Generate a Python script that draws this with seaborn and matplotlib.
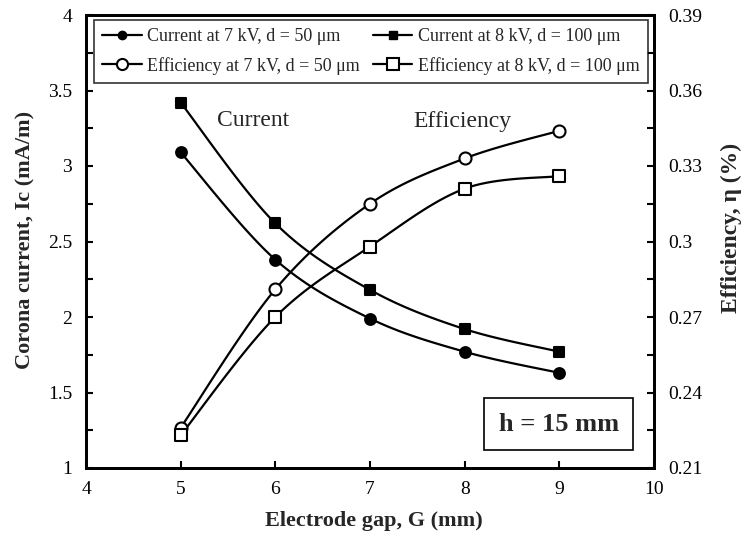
import numpy as np
import pandas as pd
import matplotlib
matplotlib.use("Agg")
import matplotlib.pyplot as plt
from matplotlib.lines import Line2D
import seaborn as sns

# Electrode gap (mm)
gap = [5, 6, 7, 8, 9]
# Corona current (mA/m)
current_7kv = [3.09, 2.38, 1.99, 1.77, 1.63]
current_8kv = [3.42, 2.62, 2.18, 1.92, 1.77]
# Efficiency (%)
eff_7kv = [0.226, 0.281, 0.315, 0.333, 0.344]
eff_8kv = [0.223, 0.270, 0.298, 0.321, 0.326]

x_ticks = [4, 5, 6, 7, 8, 9, 10]
left_ticks = [1, 1.5, 2, 2.5, 3, 3.5, 4]
left_tick_labels = ["1", "1.5", "2", "2.5", "3", "3.5", "4"]
right_ticks = [0.21, 0.24, 0.27, 0.30, 0.33, 0.36, 0.39]
right_tick_labels = ["0.21", "0.24", "0.27", "0.3", "0.33", "0.36", "0.39"]

sns.set_theme(style="white")
plt.rcParams["font.family"] = ["Liberation Serif", "DejaVu Serif"]

W, H = 745, 538
fig = plt.figure(figsize=(W / 100, H / 100), dpi=100)
ax = fig.add_axes([86 / W, 1 - 468 / H, (654 - 86) / W, (468 - 15) / H])
ax2 = ax.twinx()


def smooth(xs, ys, n=30):
    """Piecewise cubic Bezier (Catmull-Rom style) through the points."""
    pts = np.column_stack([np.asarray(xs, float), np.asarray(ys, float)])
    out = [pts[0]]
    for i in range(len(pts) - 1):
        p0 = pts[i - 1] if i > 0 else pts[i]
        p1 = pts[i]
        p2 = pts[i + 1]
        p3 = pts[i + 2] if i + 2 < len(pts) else pts[i + 1]
        c1 = p1 + (p2 - p0) / 6.0
        c2 = p2 - (p3 - p1) / 6.0
        t = np.linspace(0, 1, n)[1:, None]
        seg = ((1 - t) ** 3) * p1 + 3 * ((1 - t) ** 2) * t * c1 + 3 * (1 - t) * t ** 2 * c2 + t ** 3 * p2
        out.extend(seg)
    out = np.array(out)
    return out[:, 0], out[:, 1]


def draw(axis, ys, marker, filled, size):
    sx, sy = smooth(gap, ys)
    axis.plot(sx, sy, color="black", lw=1.6, zorder=2)
    df = pd.DataFrame({"gap": gap, "val": ys})
    sns.scatterplot(data=df, x="gap", y="val", ax=axis, marker=marker, s=size,
                    color="black" if filled else "white", edgecolor="black",
                    linewidth=1.5, zorder=3, legend=False)


draw(ax, current_7kv, "o", True, 60)
draw(ax, current_8kv, "s", True, 60)
draw(ax2, eff_7kv, "o", False, 75)
draw(ax2, eff_8kv, "s", False, 75)

ax.set_xlim(4, 10)
ax.set_ylim(1, 4)
ax2.set_ylim(0.21, 0.39)

ax.set_xticks(x_ticks)
ax.set_xticklabels([str(v) for v in x_ticks])
ax.set_yticks(left_ticks)
ax.set_yticklabels(left_tick_labels)
ax.set_yticks(np.arange(1.25, 4, 0.5), minor=True)
ax2.set_yticks(right_ticks)
ax2.set_yticklabels(right_tick_labels)
ax2.set_yticks(np.arange(0.225, 0.39, 0.03), minor=True)

for a in (ax, ax2):
    a.tick_params(axis="both", which="both", direction="in", length=5, width=1.5,
                  labelsize=14, colors="black", pad=10)
    for sp in a.spines.values():
        sp.set_color("black")
        sp.set_linewidth(2)
ax.tick_params(axis="x", which="both", bottom=True, top=False, pad=9)
ax.tick_params(axis="y", which="both", left=True, right=False)
ax2.tick_params(axis="y", which="both", right=True, left=False)

ax.set_xlabel("")
ax.set_ylabel("")
ax2.set_ylabel("")
fig.text(374 / W, 1 - 521 / H, "Electrode gap, G (mm)", fontsize=16, fontweight="bold",
         ha="center", va="center")
fig.text(25 / W, 1 - 240 / H, "Corona current, Ic (mA/m)", fontsize=16, fontweight="bold",
         ha="center", va="center", rotation=90)
fig.text(731 / W, 1 - 228 / H, "Efficiency, η (%)", fontsize=17, fontweight="bold",
         ha="center", va="center", rotation=90)
ax.set_facecolor("white")
ax2.set_facecolor("none")

ax.text(5.76, 3.30, "Current", fontsize=17, ha="center", va="center")
ax2.text(7.98, 0.3475, "Efficiency", fontsize=17, ha="center", va="center")
ax2.text(0.832, 0.097, "h = 15 mm", transform=ax2.transAxes, fontsize=19,
         fontweight="bold", ha="center", va="center",
         bbox=dict(boxstyle="square,pad=0.55", facecolor="white", edgecolor="black", linewidth=1.2))

handles = [
    Line2D([], [], color="black", lw=1.6, marker="o", markersize=6, markerfacecolor="black"),
    Line2D([], [], color="black", lw=1.6, marker="o", markersize=8, markerfacecolor="white", markeredgewidth=1.5),
    Line2D([], [], color="black", lw=1.6, marker="s", markersize=6, markerfacecolor="black"),
    Line2D([], [], color="black", lw=1.6, marker="s", markersize=8, markerfacecolor="white", markeredgewidth=1.5),
]
labels = [
    "Current at 7 kV, d = 50 μm",
    "Efficiency at 7 kV, d = 50 μm",
    "Current at 8 kV, d = 100 μm",
    "Efficiency at 8 kV, d = 100 μm",
]
leg = ax2.legend(handles, labels, ncol=2, loc="center", mode="expand",
                 bbox_to_anchor=(0.014, 0.845, 0.975, 0.15), fontsize=13,
                 frameon=True, fancybox=False, handlelength=2.2, handletextpad=0.3,
                 columnspacing=1.0, borderpad=0.45, labelspacing=0.65, borderaxespad=0)
leg.get_frame().set_edgecolor("black")
leg.get_frame().set_linewidth(1.2)

fig.savefig("out.png", dpi=100, facecolor="white")
